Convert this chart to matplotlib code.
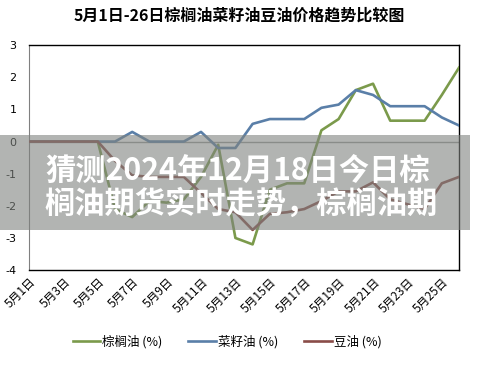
import numpy as np
import matplotlib
matplotlib.use("Agg")
import matplotlib.pyplot as plt
from matplotlib.patches import Rectangle

plt.rcParams["font.family"] = ["Noto Sans CJK SC", "DejaVu Sans"]

# ---- 数据 (5月1日 - 5月26日, 涨跌幅 %) ----
dates = [f"5月{d}日" for d in range(1, 27)]
palm = [0, 0, 0, 0, 0, -2.1, -2.35, -1.85, -1.9, -1.8, -1.1, -0.1, -3.0,
        -3.2, -1.5, -1.3, -1.3, 0.35, 0.7, 1.6, 1.8, 0.65, 0.65, 0.65, 1.45, 2.3]
rapeseed = [0, 0, 0, 0, 0, 0, 0.3, 0, 0, 0, 0.3, -0.2, -0.2, 0.55, 0.7,
            0.7, 0.7, 1.05, 1.15, 1.6, 1.45, 1.1, 1.1, 1.1, 0.75, 0.5]
soybean = [0, 0, 0, 0, 0, -0.6, -1.05, -1.1, -1.1, -1.1, -1.6, -2.1, -2.2,
           -2.75, -2.25, -2.2, -2.1, -1.85, -1.55, -1.55, -1.27, -1.8, -1.95,
           -2.1, -1.3, -1.1]
series_names = ["棕榈油 (%)", "菜籽油 (%)", "豆油 (%)"]
title = "5月1日-26日棕榈油菜籽油豆油价格趋势比较图"
overlay_text = "猜测2024年12月18日今日棕\n榈油期货实时走势，棕榈油期"

colors = ["#7b9a4b", "#5a7fa8", "#8a4c48"]

fig = plt.figure(figsize=(4.78, 3.67), dpi=100)
ax = fig.add_axes([0.0607, 0.264, 0.8996, 0.613])

x = np.arange(len(dates))
ax.axhline(0, color="#9a9a9a", lw=1.0, zorder=1)
lines = []
for vals, c, name in zip([palm, rapeseed, soybean], colors, series_names):
    ln, = ax.plot(x, vals, color=c, lw=1.9, label=name, zorder=3)
    lines.append(ln)

ax.set_xlim(0, len(dates) - 1)
ax.set_ylim(-4, 3)
ax.set_yticks(range(-4, 4))
ax.set_yticklabels([str(v) for v in range(-4, 4)], family="DejaVu Sans")
ax.set_xticks(x[::2])
ax.set_xticklabels(dates[::2], rotation=45, ha="right", va="top",
                   rotation_mode="anchor", fontsize=8.5)
ax.tick_params(axis="y", length=0, pad=9, labelsize=8)
ax.tick_params(axis="x", length=0, pad=4)
for side in ["top", "right", "bottom"]:
    ax.spines[side].set_color("black")
    ax.spines[side].set_linewidth(1.0)
ax.spines["left"].set_color("#808080")

fig.text(0.5, 0.958, title, ha="center", va="center", fontsize=11.5,
         fontweight="bold")

fig.legend(lines, series_names, loc="center", bbox_to_anchor=(0.475, 0.068),
           ncol=3, frameon=False, fontsize=9, handlelength=2.2,
           handletextpad=0.15, columnspacing=2.1)

# 半透明遮罩与文字
fig.patches.append(Rectangle((0, 1 - 230 / 367), 470 / 478, 95 / 367,
                             transform=fig.transFigure, color="#7f837f",
                             alpha=0.6, lw=0, zorder=10))
fig.text(0.094, 1 - 187 / 367, overlay_text, ha="left", va="center",
         fontsize=21.8, fontweight="bold", color="white", zorder=11,
         linespacing=1.05)

fig.savefig("out.png", dpi=100)
